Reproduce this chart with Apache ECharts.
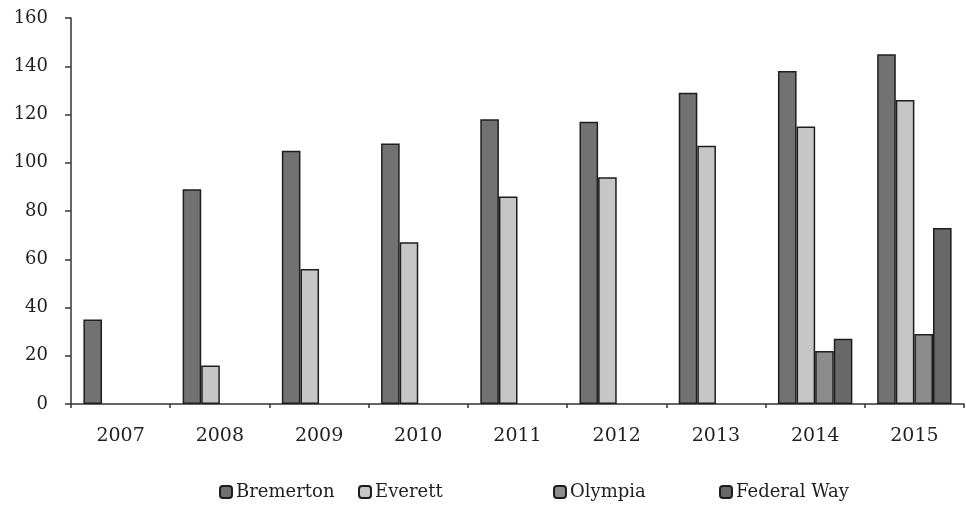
<!DOCTYPE html>
<html>
<head>
<meta charset="utf-8">
<script src="https://cdn.jsdelivr.net/npm/echarts@6/dist/echarts.min.js"></script>
<style>
  html, body { margin: 0; padding: 0; background: #fff; }
  #chart { width: 966px; height: 508px; }
</style>
</head>
<body>
<div id="chart"></div>
<script>
// Annual counts by city
const years = ['2007', '2008', '2009', '2010', '2011', '2012', '2013', '2014', '2015'];
const bremerton  = [35, 89, 105, 108, 118, 117, 129, 138, 145];
const everett    = [null, 16, 56, 67, 86, 94, 107, 115, 126];
const olympia    = [null, null, null, null, null, null, null, 22, 29];
const federalWay = [null, null, null, null, null, null, null, 27, 73];

const seriesNames = ['Bremerton', 'Everett', 'Olympia', 'Federal Way'];
const seriesData = [bremerton, everett, olympia, federalWay];
const fills = ['#727272', '#c6c6c6', '#8c8c8c', '#686868'];

const FONT = 'DejaVu Serif';
const TEXT = '#1f1f1f';
const AXIS = '#333333';

const chart = echarts.init(document.getElementById('chart'), null, { renderer: 'canvas' });

// one legend per entry so each can sit at its own spot
const legendLefts = [219, 358, 553, 719];
const legends = seriesNames.map((name, i) => ({
  data: [name],
  left: legendLefts[i],
  top: 483,
  padding: 0,
  icon: 'roundRect',
  itemWidth: 12,
  itemHeight: 12,
  itemGap: 0,
  selectedMode: false,
  textStyle: { fontFamily: FONT, fontSize: 18, color: TEXT, padding: [0, 0, 0, -1] }
}));

chart.setOption({
  animation: false,
  backgroundColor: '#ffffff',
  legend: legends,
  grid: { left: 71, right: 2, top: 18, bottom: 104, containLabel: false },
  xAxis: {
    type: 'category',
    data: years,
    boundaryGap: true,
    axisLine: { lineStyle: { color: AXIS, width: 1.5 } },
    axisTick: { show: true, length: 4, inside: false, lineStyle: { color: AXIS, width: 1.5 } },
    axisLabel: { fontFamily: FONT, fontSize: 19, color: TEXT, margin: 23 },
    splitLine: { show: false }
  },
  yAxis: {
    type: 'value',
    min: 0,
    max: 160,
    interval: 20,
    axisLine: { show: true, lineStyle: { color: AXIS, width: 1.5 } },
    axisTick: { show: true, length: 6, lineStyle: { color: AXIS, width: 1.5 } },
    axisLabel: { fontFamily: FONT, fontSize: 18, color: TEXT, margin: 23 },
    splitLine: { show: false }
  },
  series: seriesNames.map((name, i) => ({
    name: name,
    type: 'bar',
    data: seriesData[i],
    barGap: '0%',
    barCategoryGap: '25%',
    itemStyle: { color: fills[i], borderColor: '#1e1e1e', borderWidth: 1.5 }
  }))
});
</script>
</body>
</html>
